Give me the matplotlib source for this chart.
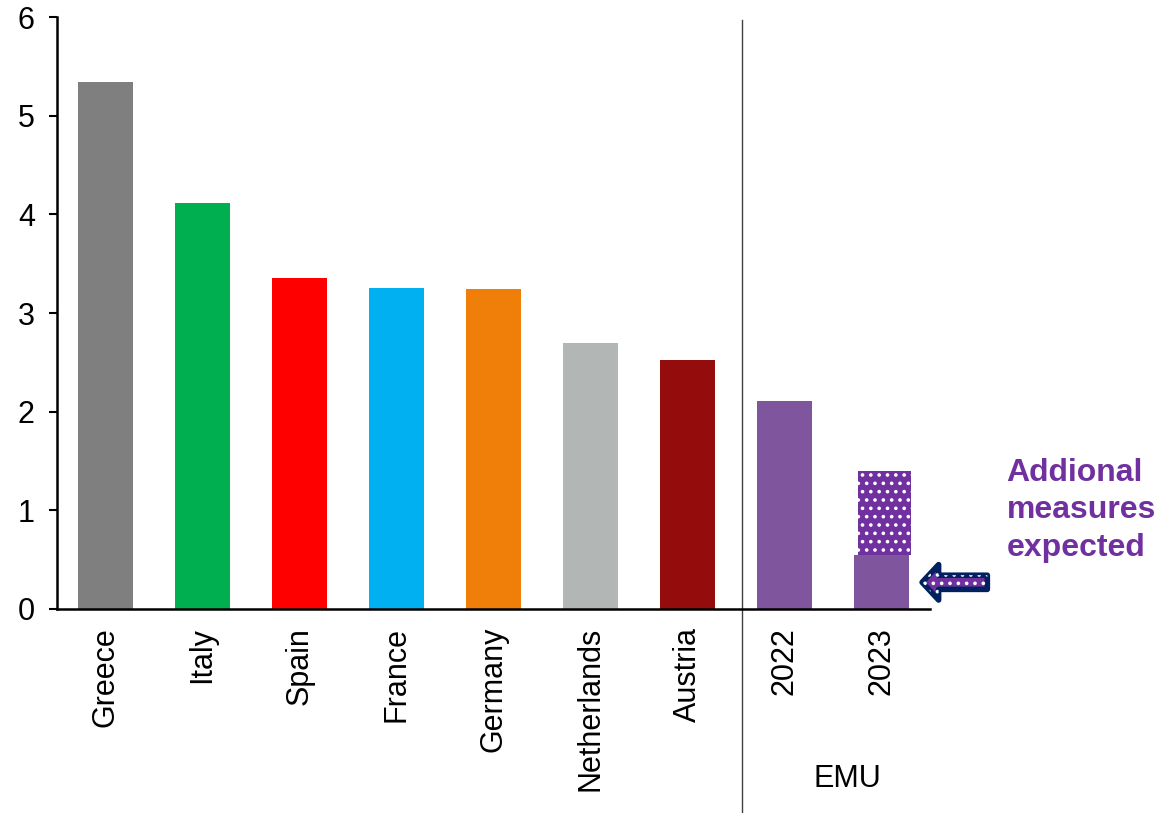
import matplotlib.pyplot as plt
from matplotlib.patches import FancyArrowPatch, ArrowStyle

plt.rcParams['font.family'] = ['Liberation Sans', 'DejaVu Sans']
plt.rcParams['hatch.linewidth'] = 1.4

# Values per country, then the EMU aggregate
labels = ['Greece', 'Italy', 'Spain', 'France', 'Germany', 'Netherlands', 'Austria', '2022', '2023']
values = [5.34, 4.12, 3.35, 3.25, 3.24, 2.70, 2.52, 2.11, 0.55]
colors = ['#7f7f7f', '#00b050', '#ff0000', '#00b0f0', '#f07f09', '#b2b7b6', '#940c0c',
          '#7f569e', '#7f569e']
extra_2023 = 0.85  # additional measures expected on top of 2023

fig = plt.figure(figsize=(11.59, 8.13), dpi=100)
ax = fig.add_axes([0.0492, 0.251, 0.7532, 0.728])

x = list(range(len(labels)))
ax.bar(x, values, width=0.56, color=colors, zorder=2)

# Hatched stack for the expected measures
ax.bar(x[-1] + 0.03, extra_2023, bottom=values[-1], width=0.54, color='#7030a0',
       edgecolor='white', linewidth=0, hatch='..', zorder=2)

ax.set_xlim(-0.5, 8.5)
ax.set_ylim(0, 6)
ax.set_yticks(range(7))
ax.set_xticks(x)
ax.set_xticklabels(labels, rotation=90)
ax.tick_params(axis='y', labelsize=22, length=6, width=1.5, pad=10)
ax.tick_params(axis='x', labelsize=22, length=0, pad=13)
for side in ['top', 'right']:
    ax.spines[side].set_visible(False)
for side in ['left', 'bottom']:
    ax.spines[side].set_linewidth(1.8)

# Divider between countries and the EMU group
ax.axvline(6.56, ymin=-0.345, ymax=0.995, color='#404040', lw=1, clip_on=False)
ax.text(7.65, -1.72, 'EMU', fontsize=22, ha='center', va='center')

# Note and arrow pointing to the 2023 bar
ax.text(9.29, 1.0, 'Addional\nmeasures\nexpected', fontsize=23, fontweight='bold',
        color='#7030a0', ha='left', va='center', linespacing=1.33, clip_on=False)

style = ArrowStyle.Simple(head_length=0.7, head_width=1.5, tail_width=0.6)
arrow = FancyArrowPatch((9.12, 0.27), (8.39, 0.27), arrowstyle=style, mutation_scale=17,
                        facecolor='#7030a0', edgecolor='#002060', lw=4,
                        joinstyle='round', clip_on=False, zorder=3)
ax.add_patch(arrow)
dots = FancyArrowPatch((9.12, 0.27), (8.39, 0.27), arrowstyle=style, mutation_scale=17,
                       facecolor='none', edgecolor='white', lw=0, hatch='..',
                       clip_on=False, zorder=4)
ax.add_patch(dots)

fig.savefig('out.png', dpi=100)
